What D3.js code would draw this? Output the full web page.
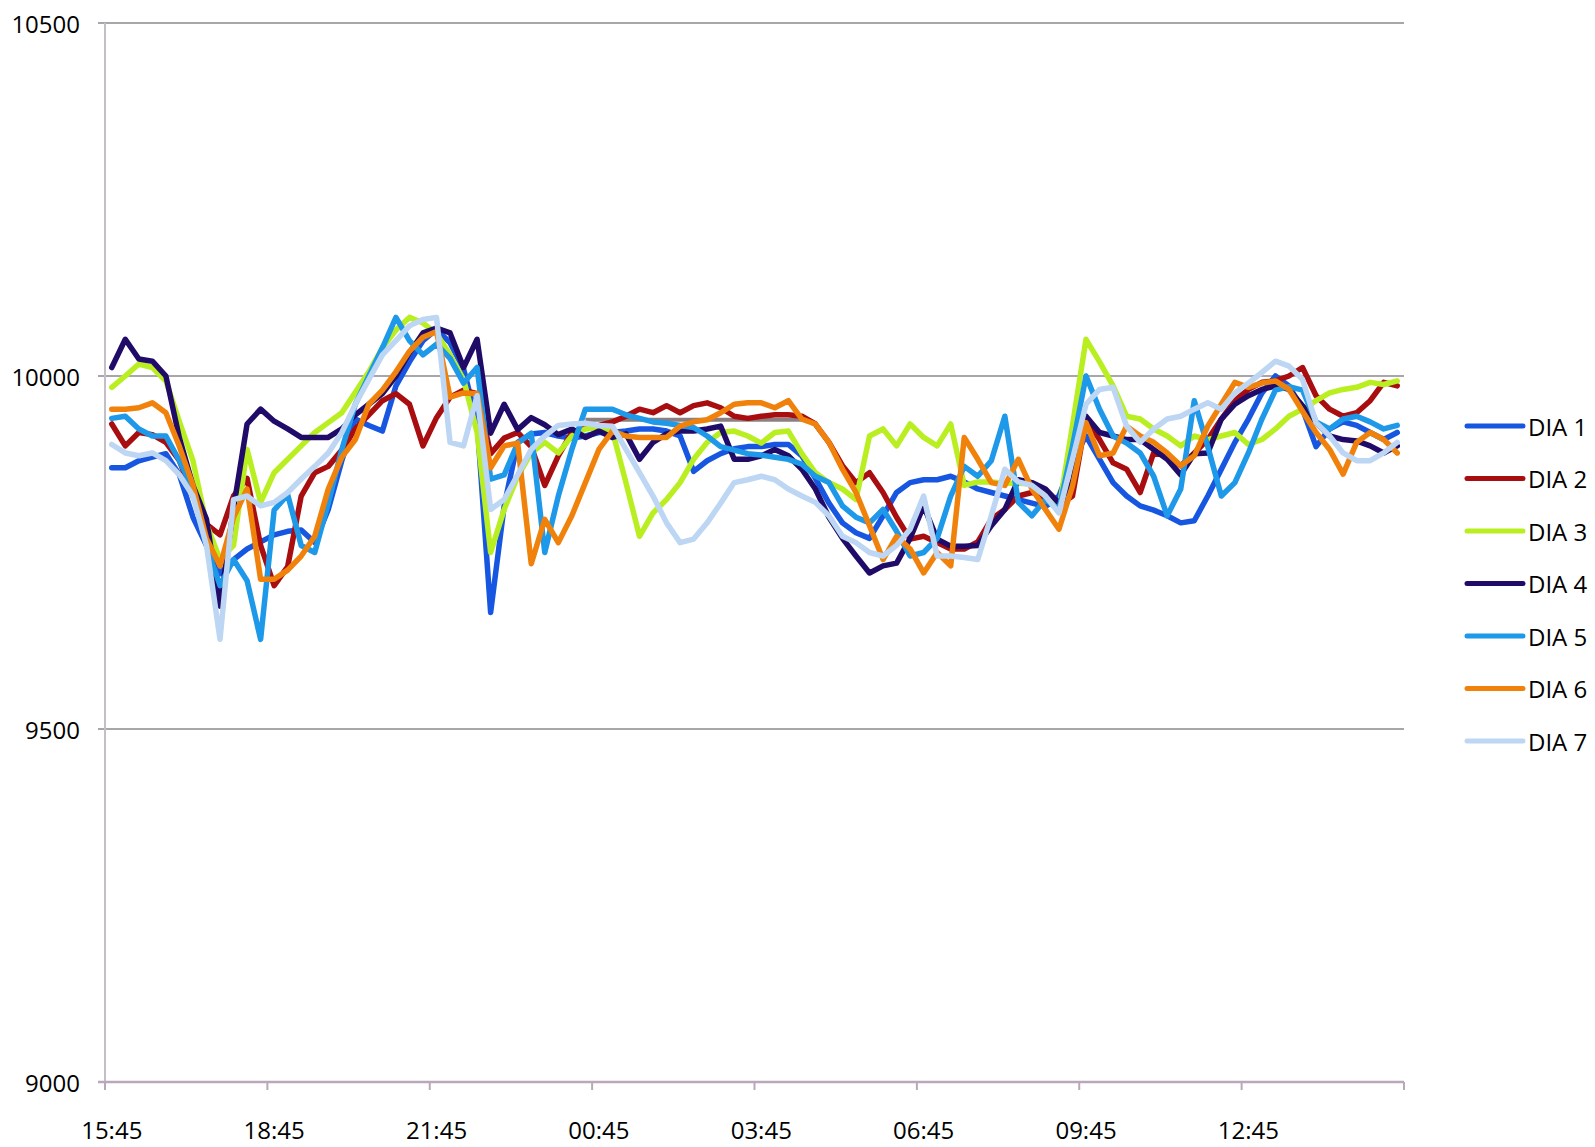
<!DOCTYPE html>
<html>
<head>
<meta charset="utf-8">
<script src="https://cdn.jsdelivr.net/npm/d3@7"></script>
<style>
  html, body { margin: 0; background: #ffffff; }
  text { font-family: "Open Sans", "Liberation Sans", sans-serif; fill: #000; }
</style>
</head>
<body>
<svg id="chart" width="1595" height="1147"></svg>
<script>
// Quarter-hour readings over one day, starting 15:45
const seriesNames = ["DIA 1", "DIA 2", "DIA 3", "DIA 4", "DIA 5", "DIA 6", "DIA 7"];
const seriesColors = ["#1656e0", "#a80d10", "#b9ef20", "#200c68", "#1e98e8", "#f0820c", "#bcd6f3"];

const dia1 = [9870, 9870, 9880, 9885, 9890, 9860, 9800, 9760, 9720, 9740, 9755, 9765, 9775, 9780, 9782, 9764,
  9811, 9880, 9939, 9930, 9922, 9986, 10020, 10050, 10066, 10047, 10010, 9935, 9665, 9816, 9906, 9918, 9920,
  9915, 9912, 9915, 9920, 9920, 9922, 9925, 9925, 9922, 9915, 9865, 9880, 9890, 9897, 9900, 9900,
  9903, 9903, 9887, 9855, 9820, 9792, 9778, 9770, 9802, 9835, 9849, 9853, 9853, 9858, 9850,
  9840, 9835, 9830, 9825, 9820, 9815, 9830, 9880, 9915, 9882, 9849, 9830, 9816, 9810, 9802, 9792,
  9795, 9830, 9868, 9906, 9939, 9976, 10000, 9986, 9953, 9900, 9925, 9935, 9930, 9920, 9910, 9920];

const dia2 = [9932, 9901, 9920, 9917, 9906, 9880, 9830, 9790, 9775, 9830, 9855, 9760, 9703, 9730, 9830, 9863,
  9872, 9895, 9925, 9945, 9965, 9975, 9960, 9901, 9941, 9970, 9980, 9975, 9890, 9912, 9920, 9900, 9845,
  9887, 9920, 9928, 9930, 9935, 9943, 9953, 9948, 9958, 9948, 9958, 9962, 9955, 9943, 9940, 9943,
  9945, 9945, 9943, 9932, 9906, 9873, 9849, 9863, 9835, 9800, 9769, 9773, 9764, 9755, 9755,
  9765, 9797, 9811, 9830, 9835, 9828, 9816, 9830, 9939, 9910, 9877, 9868, 9835, 9891, 9887, 9873,
  9891, 9910, 9939, 9965, 9981, 9991, 9993, 10000, 10012, 9972, 9953, 9943, 9948, 9965, 9991, 9986];

const dia3 = [9984, 10000, 10017, 10012, 9993, 9935, 9880, 9790, 9740, 9760, 9896, 9821, 9863, 9882, 9901, 9920,
  9934, 9948, 9977, 10006, 10040, 10065, 10083, 10075, 10060, 10030, 9995, 9920, 9750, 9811, 9858, 9891, 9906,
  9891, 9915, 9925, 9927, 9922, 9849, 9773, 9806, 9825, 9849, 9882, 9906, 9920, 9922, 9915, 9905,
  9920, 9922, 9890, 9863, 9849, 9840, 9825, 9915, 9925, 9901, 9932, 9913, 9901, 9932, 9845,
  9850, 9850, 9848, 9848, 9847, 9830, 9811, 9930, 10052, 10020, 9986, 9943, 9939, 9925, 9915, 9901,
  9915, 9910, 9915, 9920, 9903, 9910, 9925, 9943, 9953, 9965, 9976, 9981, 9984, 9991, 9988, 9993];

const dia4 = [10012, 10052, 10024, 10021, 10000, 9912, 9845, 9797, 9674, 9813, 9932, 9953, 9936, 9925, 9913, 9913,
  9913, 9925, 9945, 9960, 9975, 10000, 10033, 10061, 10068, 10061, 10012, 10052, 9919, 9960, 9924, 9941, 9931,
  9917, 9925, 9913, 9922, 9913, 9918, 9882, 9906, 9918, 9922, 9922, 9925, 9929, 9882, 9882, 9887,
  9896, 9887, 9868, 9840, 9800, 9770, 9745, 9721, 9731, 9735, 9770, 9816, 9769, 9759, 9759,
  9760, 9788, 9811, 9853, 9849, 9840, 9820, 9850, 9943, 9920, 9915, 9910, 9910, 9896, 9882, 9860,
  9890, 9891, 9939, 9960, 9972, 9981, 9986, 9981, 9958, 9934, 9915, 9910, 9908, 9901, 9891, 9901];

const dia5 = [9940, 9943, 9925, 9915, 9915, 9880, 9840, 9760, 9703, 9740, 9710, 9627, 9810, 9832, 9760, 9750,
  9820, 9896, 9960, 10000, 10040, 10083, 10050, 10030, 10045, 10025, 9990, 10012, 9854, 9860, 9905, 9919, 9750,
  9830, 9896, 9953, 9953, 9953, 9945, 9940, 9935, 9933, 9930, 9927, 9915, 9900, 9895, 9890, 9888,
  9885, 9882, 9875, 9858, 9849, 9816, 9800, 9792, 9811, 9780, 9745, 9750, 9770, 9830, 9872,
  9858, 9880, 9943, 9821, 9802, 9825, 9811, 9900, 10000, 9953, 9915, 9905, 9891, 9858, 9802, 9840,
  9965, 9900, 9830, 9849, 9891, 9939, 9980, 9985, 9980, 9935, 9925, 9939, 9943, 9935, 9925, 9930];

const dia6 = [9953, 9953, 9955, 9962, 9948, 9900, 9845, 9770, 9731, 9800, 9840, 9712, 9712, 9725, 9745, 9773,
  9840, 9885, 9910, 9960, 9980, 10006, 10035, 10055, 10063, 9970, 9976, 9975, 9870, 9901, 9905, 9734, 9797,
  9764, 9802, 9849, 9896, 9922, 9915, 9913, 9913, 9913, 9929, 9935, 9938, 9948, 9960, 9962, 9962,
  9955, 9965, 9939, 9932, 9906, 9868, 9835, 9788, 9740, 9773, 9755, 9721, 9750, 9731, 9913,
  9882, 9849, 9845, 9882, 9840, 9811, 9783, 9844, 9934, 9887, 9891, 9929, 9915, 9906, 9891, 9873,
  9887, 9929, 9960, 9991, 9984, 9990, 9993, 9981, 9950, 9920, 9896, 9861, 9906, 9920, 9910, 9891];

const dia7 = [9903, 9891, 9887, 9891, 9880, 9860, 9830, 9760, 9627, 9825, 9830, 9816, 9821, 9835, 9854, 9872,
  9891, 9920, 9960, 9995, 10030, 10050, 10071, 10080, 10083, 9906, 9901, 9972, 9811, 9825, 9860, 9896, 9915,
  9930, 9932, 9933, 9930, 9929, 9896, 9863, 9830, 9792, 9764, 9769, 9792, 9820, 9849, 9853, 9858,
  9853, 9840, 9830, 9821, 9802, 9773, 9764, 9750, 9745, 9760, 9783, 9830, 9745, 9745, 9743,
  9740, 9802, 9868, 9850, 9845, 9830, 9806, 9882, 9960, 9981, 9984, 9929, 9906, 9925, 9939, 9943,
  9953, 9962, 9953, 9976, 9990, 10005, 10021, 10014, 9995, 9934, 9915, 9891, 9880, 9880, 9891, 9906];

// straight reference trace drawn across the night hours
const flatIdx = [35, 51];
const flatValue = [9938, 9938];

const tickLabels = ["15:45", "18:45", "21:45", "00:45", "03:45", "06:45", "09:45", "12:45"];
const yTicks = [9000, 9500, 10000, 10500];

const seriesValues = [dia1, dia2, dia3, dia4, dia5, dia6, dia7];
const slots = d3.range(dia1.length);

const svg = d3.select("#chart");
const x = d3.scaleBand().domain(slots).range([105, 1404]);
const bw = x.bandwidth();
const cx = i => x(i) + bw / 2;
const y = d3.scaleLinear().domain([9000, 10500]).range([1082, 23]);

// horizontal gridlines
svg.append("g").selectAll("line")
  .data(yTicks.filter(v => v > 9000))
  .join("line")
  .attr("x1", 98).attr("x2", 1404)
  .attr("y1", d => y(d)).attr("y2", d => y(d))
  .attr("stroke", "#a9a6aa").attr("stroke-width", 2);

// vertical axis line
svg.append("line")
  .attr("x1", 105).attr("x2", 105)
  .attr("y1", y(10500)).attr("y2", y(9000))
  .attr("stroke", "#c4bfc6").attr("stroke-width", 2);

// value labels
svg.append("g").selectAll("text")
  .data(yTicks)
  .join("text")
  .attr("x", 80).attr("y", d => y(d))
  .attr("text-anchor", "end")
  .attr("dominant-baseline", "central")
  .style("font-size", "24px")
  .text(d => d);

// horizontal axis with ticks every three hours
svg.append("line")
  .attr("x1", 98).attr("x2", 1404)
  .attr("y1", y(9000)).attr("y2", y(9000))
  .attr("stroke", "#b9a8ba").attr("stroke-width", 2.5);

const tickSlots = d3.range(0, slots.length + 1, 12);
svg.append("g").selectAll("line")
  .data(tickSlots)
  .join("line")
  .attr("x1", d => 105 + d * x.step()).attr("x2", d => 105 + d * x.step())
  .attr("y1", y(9000)).attr("y2", y(9000) + 8)
  .attr("stroke", "#b9a8ba").attr("stroke-width", 2);

svg.append("g").selectAll("text")
  .data(tickLabels)
  .join("text")
  .attr("x", (d, k) => cx(k * 12))
  .attr("y", 1139)
  .attr("text-anchor", "middle")
  .style("font-size", "24px")
  .text(d => d);

// series lines
const line = d3.line()
  .x((d, i) => cx(i))
  .y(d => y(d));

svg.append("line")
  .attr("x1", cx(flatIdx[0])).attr("x2", cx(flatIdx[1]))
  .attr("y1", y(flatValue[0])).attr("y2", y(flatValue[1]))
  .attr("stroke", "#8b7f80").attr("stroke-width", 4);

svg.append("g").selectAll("path")
  .data(seriesValues)
  .join("path")
  .attr("d", d => line(d))
  .attr("fill", "none")
  .attr("stroke", (d, k) => seriesColors[k])
  .attr("stroke-width", 5.5)
  .attr("stroke-linejoin", "round")
  .attr("stroke-linecap", "round");

// legend
const legend = svg.append("g").selectAll("g")
  .data(seriesNames)
  .join("g")
  .attr("transform", (d, k) => `translate(0, ${426 + k * 52.5})`);

legend.append("line")
  .attr("x1", 1467).attr("x2", 1523)
  .attr("y1", 0).attr("y2", 0)
  .attr("stroke", (d, k) => seriesColors[k])
  .attr("stroke-width", 5)
  .attr("stroke-linecap", "round");

legend.append("text")
  .attr("x", 1528).attr("y", 0)
  .attr("dominant-baseline", "central")
  .style("font-size", "24px")
  .text(d => d);
</script>
</body>
</html>
